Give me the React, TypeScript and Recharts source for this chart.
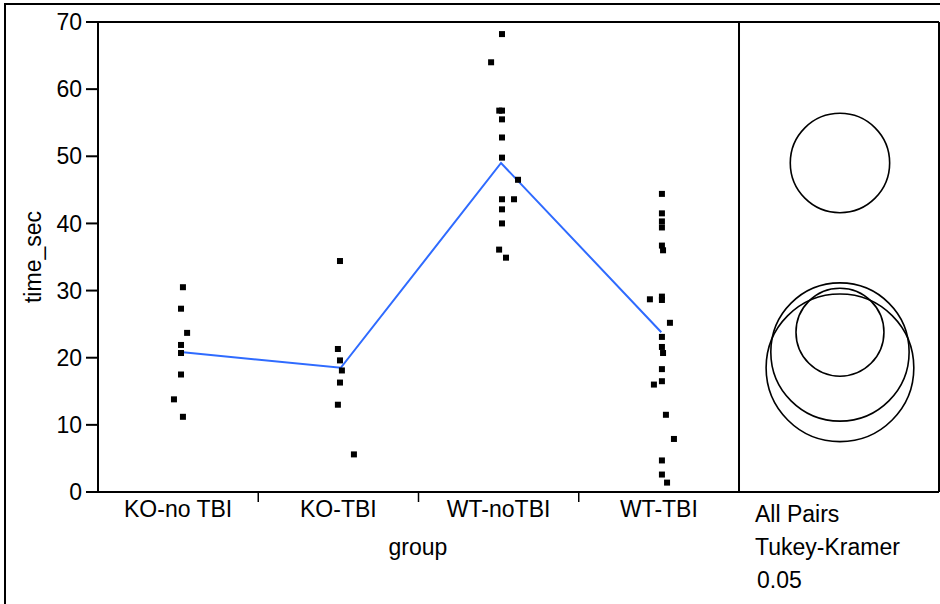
import {
  ComposedChart,
  Scatter,
  Line,
  XAxis,
  YAxis,
  ReferenceLine,
} from "recharts";

const groups = ["KO-no TBI", "KO-TBI", "WT-noTBI", "WT-TBI"];
const yTicks = [0, 10, 20, 30, 40, 50, 60, 70];

const koNoTbi = [30.5, 27.3, 23.7, 21.9, 20.7, 17.5, 13.8, 11.2];
const koTbi = [34.4, 21.3, 19.6, 18.1, 16.3, 13.0, 5.6];
const wtNoTbi = [68.2, 64.0, 56.8, 56.8, 55.5, 52.8, 49.8, 46.5, 43.6, 43.6, 42.1, 40.0, 36.1, 34.9];
const wtTbi = [
  44.4, 41.5, 40.3, 39.4, 36.7, 36.0, 29.1, 28.6, 28.7, 25.2, 23.1, 21.6, 20.7, 18.3, 16.5, 16.0, 11.5,
  7.9, 4.7, 2.6, 1.4,
];

// JMP jitter, as a fraction of the group band
const koNoTbiJitter = [0.03, 0.018, 0.056, 0.018, 0.018, 0.018, -0.026, 0.03];
const koTbiJitter = [0.01, -0.003, 0.01, 0.022, 0.01, -0.003, 0.097];
const wtNoTbiJitter = [0.021, -0.047, 0.004, 0.021, 0.021, 0.021, 0.021, 0.121, 0.021, 0.096, 0.021, 0.021, 0.003, 0.046];
const wtTbiJitter = [
  0.019, 0.019, 0.019, 0.019, 0.019, 0.026, 0.019, 0.019, -0.056, 0.069, 0.019, 0.019, 0.026, 0.019, 0.019,
  -0.031, 0.044, 0.094, 0.019, 0.019, 0.051,
];

const means = [20.85, 18.5, 49.0, 23.8];
// comparison circle radii (in time_sec units)
const circleRadii = [10.3, 11.0, 7.4, 6.55];

const FONT = '"Liberation Sans", Arial, sans-serif';
const PLOT_TOP = 22;
const PLOT_BOTTOM = 492;
const PX_PER_UNIT = (PLOT_BOTTOM - PLOT_TOP) / 70;
const X_MAX = 5.248;
const CIRCLE_X = 4.63;

const toPoints = (vals: number[], jitter: number[], i: number) =>
  vals.map((v, k) => ({ x: i + 0.5 + jitter[k], y: v }));

const pointSets = [
  toPoints(koNoTbi, koNoTbiJitter, 0),
  toPoints(koTbi, koTbiJitter, 1),
  toPoints(wtNoTbi, wtNoTbiJitter, 2),
  toPoints(wtTbi, wtTbiJitter, 3),
];
const meanData = means.map((m, i) => ({ x: i + 0.515, y: m }));
const circleData = means.map((m, i) => ({ x: CIRCLE_X, y: m, r: circleRadii[i] }));

const Square = (props: any) => (
  <rect x={props.cx - 3} y={props.cy - 3} width={6} height={6} fill="#000" />
);

const Ring = (props: any) => (
  <circle
    cx={props.cx}
    cy={props.cy}
    r={props.payload.r * PX_PER_UNIT}
    fill="none"
    stroke="#000"
    strokeWidth={1.6}
  />
);

const XTick = ({ x, y, payload }: any) => {
  const v = payload.value;
  if (Number.isInteger(v)) {
    return <line x1={x} x2={x} y1={y} y2={y + 10} stroke="#000" strokeWidth={1.5} />;
  }
  return (
    <text x={x} y={y + 25} textAnchor="middle" fill="#000" fontSize={23} fontFamily={FONT}>
      {groups[Math.floor(v)]}
    </text>
  );
};

export default function App() {
  return (
    <div
      style={{
        position: "absolute",
        left: 0,
        top: 0,
        width: 940,
        height: 604,
        overflow: "hidden",
        background: "#fff",
        fontFamily: FONT,
      }}
    >
      <div
        style={{
          position: "absolute",
          left: 4,
          top: 3,
          width: 1000,
          height: 700,
          border: "2px solid #000",
        }}
      />
      <div style={{ position: "absolute", left: 0, top: 0 }}>
        <ComposedChart
          width={940}
          height={604}
          margin={{ top: PLOT_TOP, right: 1, bottom: 72, left: 0 }}
        >
          <XAxis
            type="number"
            dataKey="x"
            domain={[0, X_MAX]}
            allowDataOverflow
            ticks={[0.5, 1, 1.5, 2, 2.5, 3, 3.5]}
            interval={0}
            height={40}
            tickSize={0}
            tickMargin={0}
            tickLine={false}
            tick={<XTick />}
            axisLine={{ stroke: "#000", strokeWidth: 2 }}
          />
          <YAxis
            type="number"
            domain={[0, 70]}
            ticks={yTicks}
            interval={0}
            width={98}
            tickSize={12}
            tickMargin={4}
            tickLine={{ stroke: "#000", strokeWidth: 2 }}
            axisLine={{ stroke: "#000", strokeWidth: 2 }}
            tick={{ fill: "#000", fontSize: 23, fontFamily: FONT }}
          />
          <ReferenceLine y={70} stroke="#000" strokeWidth={2} />
          <ReferenceLine x={X_MAX} stroke="#000" strokeWidth={2} />
          <ReferenceLine x={4} stroke="#000" strokeWidth={2} />
          {pointSets.map((pts, i) => (
            <Scatter
              key={groups[i]}
              name={groups[i]}
              data={pts}
              dataKey="y"
              shape={<Square />}
              isAnimationActive={false}
            />
          ))}
          <Line
            data={meanData}
            dataKey="y"
            stroke="#2f6bff"
            strokeWidth={2}
            dot={false}
            type="linear"
            isAnimationActive={false}
          />
          <Scatter data={circleData} dataKey="y" shape={<Ring />} isAnimationActive={false} />
        </ComposedChart>
      </div>
      <svg
        width={940}
        height={604}
        style={{ position: "absolute", left: 0, top: 0, pointerEvents: "none" }}
      >
        <text
          x={41}
          y={257}
          transform="rotate(-90 41 257)"
          textAnchor="middle"
          fontSize={23}
          fontFamily={FONT}
          fill="#000"
        >
          time_sec
        </text>
        <text x={418} y={555} textAnchor="middle" fontSize={23} fontFamily={FONT} fill="#000">
          group
        </text>
        <text x={755} y={522} fontSize={23} fontFamily={FONT} fill="#000">
          All Pairs
        </text>
        <text x={755} y={555} fontSize={23} fontFamily={FONT} fill="#000">
          Tukey-Kramer
        </text>
        <text x={757} y={588} fontSize={23} fontFamily={FONT} fill="#000">
          0.05
        </text>
      </svg>
    </div>
  );
}
